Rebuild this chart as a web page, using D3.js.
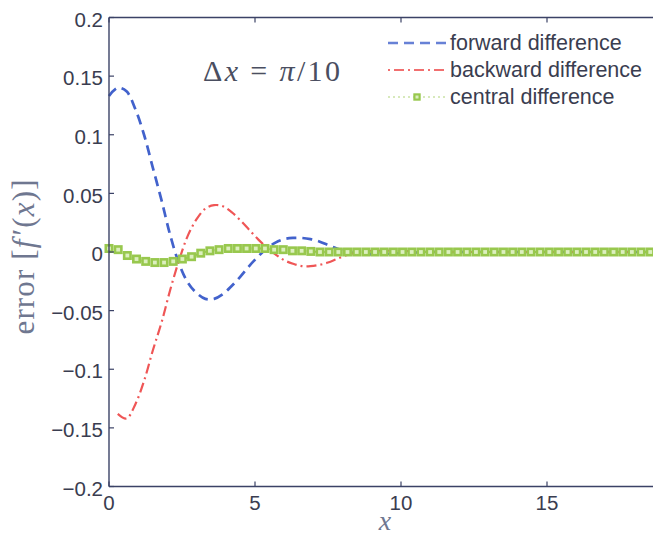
<!DOCTYPE html>
<html>
<head>
<meta charset="utf-8">
<script src="https://cdn.jsdelivr.net/npm/d3@7"></script>
<style>
html,body{margin:0;padding:0;background:#fff;}
svg{display:block;}
</style>
</head>
<body>
<svg id="chart" width="653" height="539"></svg>
<script>
// ---- data ----
const forwardX = [0, 0.3, 0.6, 0.9, 1.2, 1.5, 1.8, 2.1, 2.4, 2.7, 3.0, 3.3, 3.6, 3.9, 4.2, 4.5, 4.8, 5.1, 5.4, 5.7, 6.0, 6.3, 6.6, 6.9, 7.2, 7.5, 7.8, 8.1, 8.4, 9, 10, 11, 12, 14, 16, 18, 20];
const forwardY = [0.133, 0.140, 0.137, 0.122, 0.100, 0.072, 0.044, 0.014, -0.010, -0.026, -0.035, -0.040, -0.040, -0.036, -0.029, -0.021, -0.012, -0.004, 0.003, 0.008, 0.011, 0.012, 0.012, 0.011, 0.009, 0.006, 0.003, 0.001, -0.001, -0.002, -0.001, 0, 0, 0, 0, 0, 0];

const backwardX = [0.3, 0.6, 0.9, 1.2, 1.5, 1.8, 2.1, 2.4, 2.7, 3.0, 3.3, 3.6, 3.9, 4.2, 4.5, 4.8, 5.1, 5.4, 5.7, 6.0, 6.3, 6.6, 6.9, 7.2, 7.5, 7.8, 8.1, 8.4, 9, 10, 11, 12, 14, 16, 18, 20];
const backwardY = [-0.138, -0.142, -0.130, -0.110, -0.084, -0.060, -0.032, -0.007, 0.014, 0.028, 0.037, 0.040, 0.039, 0.034, 0.027, 0.019, 0.011, 0.004, -0.002, -0.007, -0.010, -0.012, -0.012, -0.011, -0.009, -0.006, -0.003, -0.001, 0.001, 0.001, 0, 0, 0, 0, 0, 0];

const centralStep = Math.PI / 10;  // grid spacing Δx = π/10
const centralY = [0.003, 0.002, -0.003, -0.006, -0.008, -0.009, -0.009, -0.008, -0.006, -0.004, -0.001, 0.001, 0.002, 0.003, 0.003, 0.003, 0.003, 0.003, 0.002, 0.002, 0.001, 0.001, 0.0005, 0, 0, 0, 0, 0, 0, 0, 0, 0, 0, 0, 0, 0, 0, 0, 0, 0, 0, 0, 0, 0, 0, 0, 0, 0, 0, 0, 0, 0, 0, 0, 0, 0, 0, 0, 0, 0, 0, 0, 0, 0];

const xTicks = [0, 5, 10, 15];
const yTicks = [-0.2, -0.15, -0.1, -0.05, 0, 0.05, 0.1, 0.15, 0.2];
const yTickLabels = ["\u22120.2", "\u22120.15", "\u22120.1", "\u22120.05", "0", "0.05", "0.1", "0.15", "0.2"];
const legendLabels = ["forward difference", "backward difference", "central difference"];

// ---- drawing ----
const svg = d3.select("#chart");
const axisColor = "#3b4266";
const textColor = "#3a3d50";
const blue = "#4262cc", red = "#ef5656", green = "#98c84e";

const x = d3.scaleLinear().domain([0, 20]).range([109, 693]);
const y = d3.scaleLinear().domain([-0.2, 0.2]).range([486.5, 17.5]);

const line = d3.line().x(d => x(d[0])).y(d => y(d[1])).curve(d3.curveCatmullRom.alpha(0.5));

// forward
svg.append("path")
  .datum(forwardX.map((v, i) => [v, forwardY[i]]))
  .attr("d", line).attr("fill", "none")
  .attr("stroke", blue).attr("stroke-width", 2.7)
  .attr("stroke-dasharray", "10,6");

// backward
svg.append("path")
  .datum(backwardX.map((v, i) => [v, backwardY[i]]))
  .attr("d", line).attr("fill", "none")
  .attr("stroke", red).attr("stroke-width", 2.2)
  .attr("stroke-dasharray", "10,4,2,4");

// central
const centralData = centralY.map((v, i) => [i * centralStep, v]);
svg.append("path")
  .datum(centralData)
  .attr("d", line).attr("fill", "none")
  .attr("stroke", green).attr("stroke-width", 2)
  .attr("stroke-dasharray", "2,3");
const ms = 6.4;
svg.append("g").selectAll("rect").data(centralData).join("rect")
  .attr("x", d => x(d[0]) - ms / 2).attr("y", d => y(d[1]) - ms / 2)
  .attr("width", ms).attr("height", ms)
  .attr("fill", "#dcefbf").attr("stroke", green).attr("stroke-width", 2.6);

// axes
const axG = svg.append("g");
axG.append("line").attr("x1", x(0)).attr("x2", 653).attr("y1", y(-0.2)).attr("y2", y(-0.2))
  .attr("stroke", axisColor).attr("stroke-width", 1.4);
axG.append("line").attr("x1", x(0)).attr("x2", 653).attr("y1", y(0.2)).attr("y2", y(0.2))
  .attr("stroke", axisColor).attr("stroke-width", 1.4);
axG.append("line").attr("x1", x(0)).attr("x2", x(0)).attr("y1", y(0.2)).attr("y2", y(-0.2))
  .attr("stroke", axisColor).attr("stroke-width", 1.4);

xTicks.forEach(t => {
  axG.append("line").attr("x1", x(t)).attr("x2", x(t)).attr("y1", y(-0.2)).attr("y2", y(-0.2) - 5)
    .attr("stroke", axisColor).attr("stroke-width", 1.2);
  axG.append("line").attr("x1", x(t)).attr("x2", x(t)).attr("y1", y(0.2)).attr("y2", y(0.2) + 5)
    .attr("stroke", axisColor).attr("stroke-width", 1.2);
  axG.append("text").attr("x", x(t)).attr("y", 510)
    .attr("text-anchor", "middle")
    .attr("font-family", "Liberation Sans, Arial, sans-serif").attr("font-size", 20.5)
    .attr("fill", textColor).text(t);
});
yTicks.forEach((t, i) => {
  axG.append("line").attr("x1", x(0)).attr("x2", x(0) + 5).attr("y1", y(t)).attr("y2", y(t))
    .attr("stroke", axisColor).attr("stroke-width", 1.2);
  axG.append("text").attr("x", 103).attr("y", y(t) + 2).attr("dy", "0.35em")
    .attr("text-anchor", "end")
    .attr("font-family", "Liberation Sans, Arial, sans-serif").attr("font-size", 20.5)
    .attr("fill", textColor).text(yTickLabels[i]);
});

// axis labels
svg.append("text").attr("transform", "translate(34,257) rotate(-90)")
  .attr("text-anchor", "middle")
  .attr("font-family", "Liberation Serif, Times New Roman, serif").attr("font-size", 31)
  .attr("fill", "#6f7790")
  .attr("textLength", 155).attr("lengthAdjust", "spacing")
  .html('error [<tspan font-style="italic">f</tspan><tspan dx="3">\u2032</tspan>(<tspan font-style="italic">x</tspan>)]');

svg.append("text").attr("x", 385).attr("y", 530)
  .attr("text-anchor", "middle")
  .attr("font-family", "Liberation Serif, Times New Roman, serif").attr("font-size", 28)
  .attr("font-style", "italic").attr("fill", "#6f7790").text("x");

// annotation
svg.append("text").attr("x", 203).attr("y", 81)
  .attr("font-family", "Liberation Serif, Times New Roman, serif").attr("font-size", 30)
  .attr("fill", "#4a4e60")
  .attr("textLength", 137).attr("lengthAdjust", "spacing")
  .html('\u0394<tspan font-style="italic">x</tspan> = <tspan font-style="italic">\u03c0</tspan>/10');

// legend
const legY = [43, 70, 97];
const legG = svg.append("g");
legG.append("line").attr("x1", 388).attr("x2", 446).attr("y1", legY[0]).attr("y2", legY[0])
  .attr("stroke", blue).attr("stroke-width", 2.4).attr("stroke-dasharray", "10,6").attr("opacity", 0.8);
legG.append("line").attr("x1", 388).attr("x2", 446).attr("y1", legY[1]).attr("y2", legY[1])
  .attr("stroke", red).attr("stroke-width", 2.2).attr("stroke-dasharray", "2,4,10,4").attr("opacity", 0.85);
legG.append("line").attr("x1", 388).attr("x2", 446).attr("y1", legY[2]).attr("y2", legY[2])
  .attr("stroke", green).attr("stroke-width", 1.6).attr("stroke-dasharray", "2,3").attr("opacity", 0.5);
legG.append("rect").attr("x", 417 - 2.6).attr("y", legY[2] - 2.6).attr("width", 5.2).attr("height", 5.2)
  .attr("fill", "#dcefbf").attr("stroke", green).attr("stroke-width", 2.2);
legendLabels.forEach((t, i) => {
  legG.append("text").attr("x", 450).attr("y", legY[i] + 7)
    .attr("font-family", "Liberation Sans, Arial, sans-serif").attr("font-size", 21.5)
    .attr("fill", textColor).text(t);
});
</script>
</body>
</html>
